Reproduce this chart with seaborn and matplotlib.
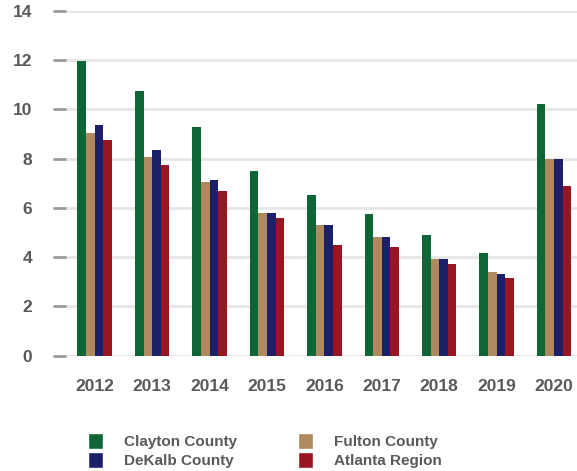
import numpy as np
import pandas as pd
import matplotlib
matplotlib.use("Agg")
import matplotlib.pyplot as plt
import seaborn as sns
from matplotlib.patches import Patch

years = ['2012', '2013', '2014', '2015', '2016', '2017', '2018', '2019', '2020']
clayton = [11.96, 10.74, 9.28, 7.48, 6.51, 5.73, 4.88, 4.18, 10.21]
fulton = [9.03, 8.05, 7.03, 5.81, 5.32, 4.80, 3.94, 3.41, 7.97]
dekalb = [9.36, 8.34, 7.12, 5.81, 5.32, 4.80, 3.94, 3.33, 7.97]
atlanta = [8.75, 7.73, 6.67, 5.57, 4.51, 4.43, 3.74, 3.17, 6.87]

names = ['Clayton County', 'Fulton County', 'DeKalb County', 'Atlanta Region']
colors = ['#0e6535', '#b08a5e', '#1c2068', '#9a1522']
txt = '#595959'

df = pd.DataFrame({
    'year': years * 4,
    'value': clayton + fulton + dekalb + atlanta,
    'area': [n for n in names for _ in years],
})

sns.set_style("white")
plt.rcParams['font.family'] = ['Liberation Sans', 'DejaVu Sans']

fig = plt.figure(figsize=(5.77, 4.71), dpi=100)
ax = fig.add_axes([66 / 577, 1 - 355.7 / 471, 1 - 66 / 577, (355.7 - 10.7) / 471])

sns.barplot(data=df, x='year', y='value', hue='area', hue_order=names,
            palette=colors, width=0.6, saturation=1, linewidth=0,
            ax=ax, legend=False)

ax.set_ylim(0, 14)
ax.set_xlim(-0.5, 8.4)
ax.set_yticks(np.arange(0, 15, 2))
ax.yaxis.grid(True, color='#e6e6e6', linewidth=2)
ax.set_axisbelow(True)
for s in ax.spines.values():
    s.set_visible(False)
ax.tick_params(axis='y', left=True, length=9.5, width=2, color='#999999', pad=15,
               labelsize=12.5, labelcolor=txt)
ax.tick_params(axis='x', length=0, pad=16.5, labelsize=12.5, labelcolor=txt)
for lab in ax.get_xticklabels() + ax.get_yticklabels():
    lab.set_fontweight('bold')
ax.set_xlabel('')
ax.set_ylabel('')

order = [0, 2, 1, 3]
handles = [Patch(facecolor=colors[i], label=names[i]) for i in order]
leg = fig.legend(handles=handles, ncol=2, loc='upper left',
                 bbox_to_anchor=(88 / 577, 1 - 433 / 471), frameon=False,
                 borderpad=0, borderaxespad=0, handlelength=1.0, handleheight=1.23,
                 handletextpad=1.35, labelspacing=0.2, columnspacing=4.0,
                 prop={'size': 11, 'weight': 'bold'})
for t in leg.get_texts():
    t.set_color(txt)

fig.savefig('out.png', dpi=100)
